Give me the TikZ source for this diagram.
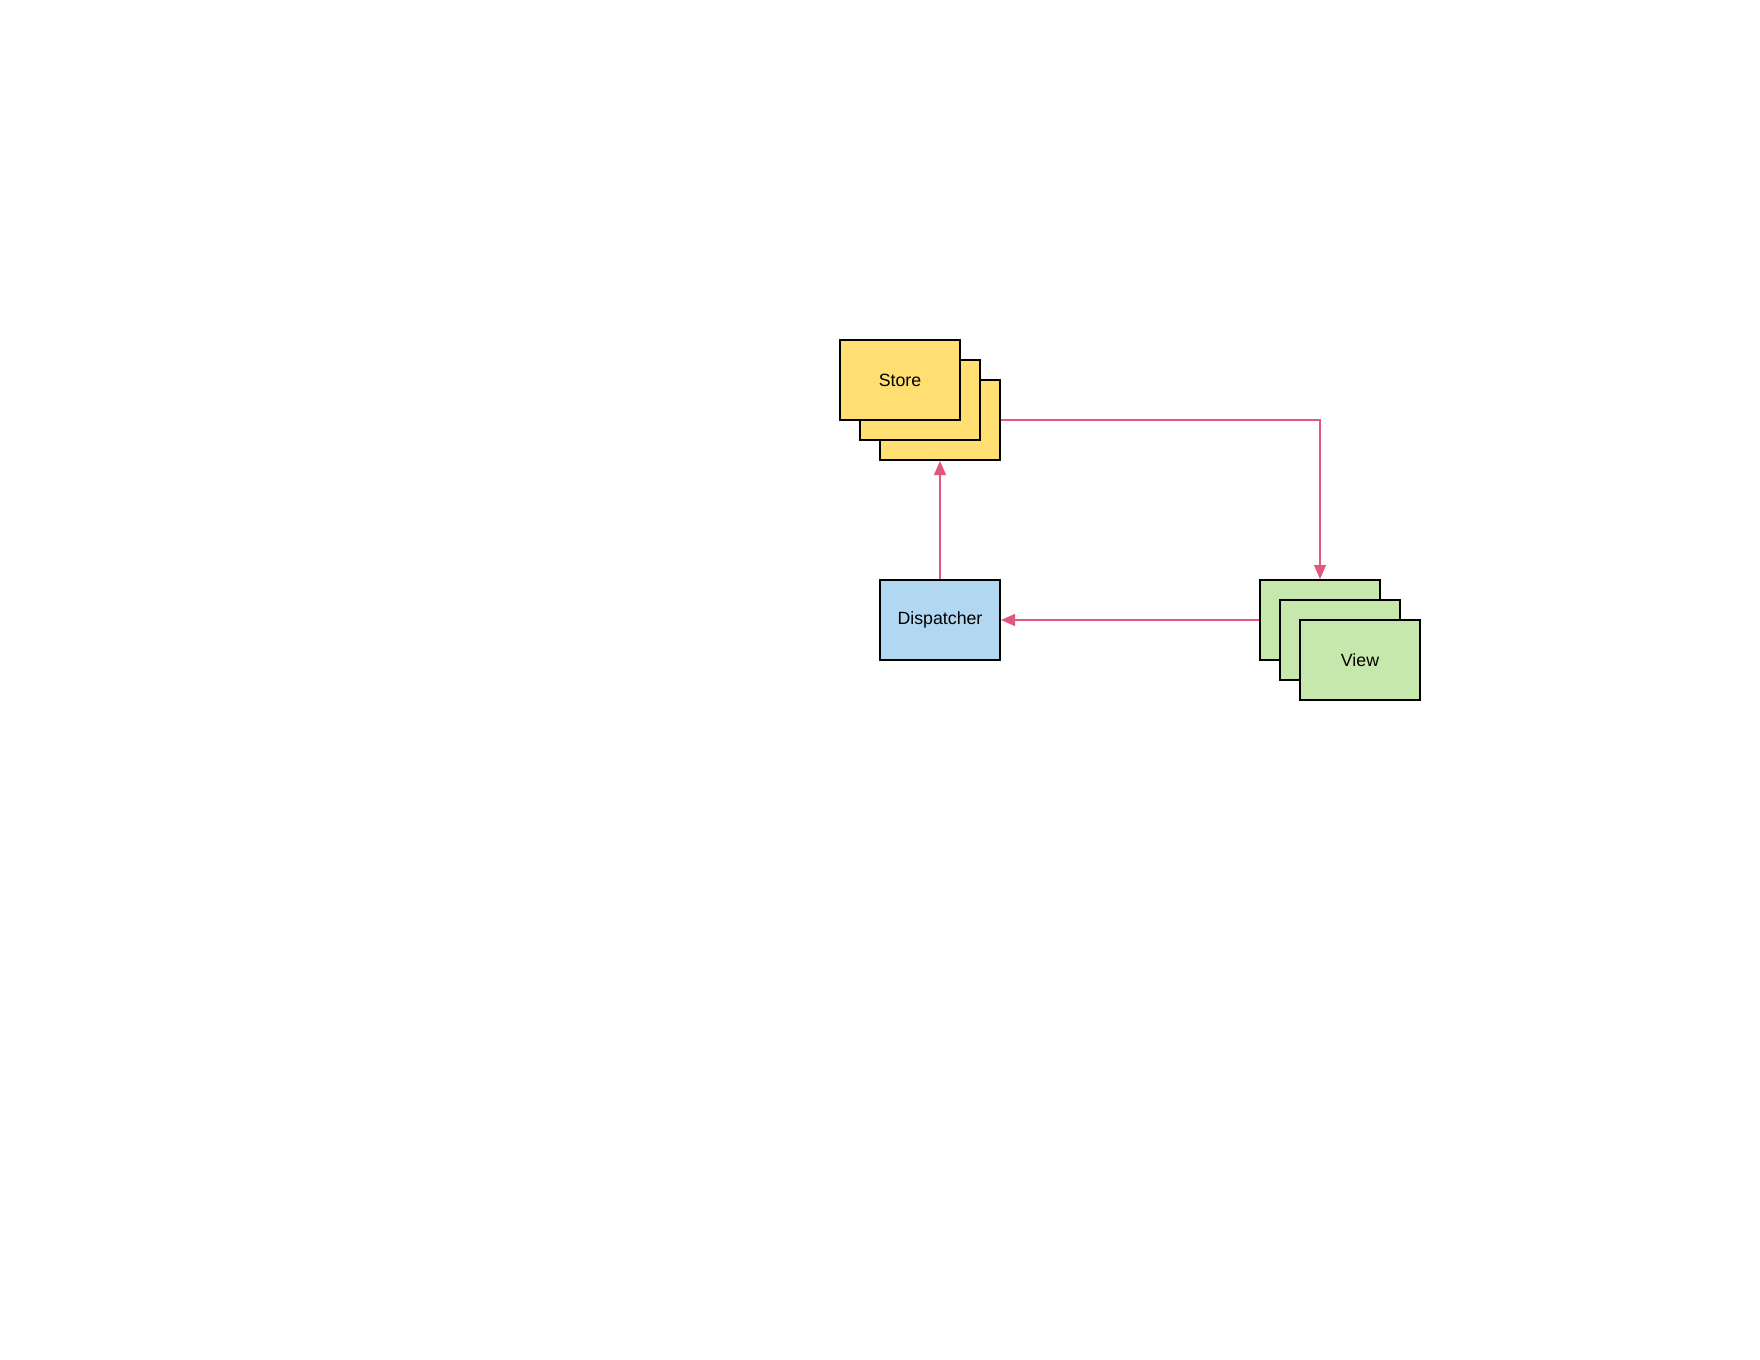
\documentclass[tikz,border=0pt]{standalone}
\usepackage{fontspec}
\setmainfont{Liberation Sans}
\usetikzlibrary{arrows.meta}
\definecolor{storecol}{RGB}{255,223,113}
\definecolor{viewcol}{RGB}{199,232,172}
\definecolor{dispcol}{RGB}{178,215,240}
\definecolor{flowcol}{RGB}{226,86,128}
\tikzset{
	box/.style={draw=black,line width=1.5pt,minimum width=90pt,minimum height=60pt,inner sep=0pt,font=\fontsize{13.3}{16}\selectfont},
	flow/.style={draw=flowcol,line width=0.9pt,-{Triangle[length=10.5pt,width=9pt]}}
}
\begin{document}
\begin{tikzpicture}[x=0.75pt,y=-0.75pt,line join=miter]
	\useasboundingbox (0,0) rectangle (1760,1360);
	% stores
	\foreach \i in {3,2}
	\node[box,fill=storecol] (store\i) at ({880+20*\i},{360+20*\i}) {};
	\node[box,fill=storecol] (store1) at (900,380) {Store};
	% views
	\foreach \i in {1,2}
	\node[box,fill=viewcol] (view\i) at ({1300+20*\i},{600+20*\i}) {};
	\node[box,fill=viewcol] (view3) at (1360,660) {View};
	\node[box,fill=dispcol] (disp) at (940,620) {Dispatcher};
	% flow
	\draw[flow] (store3.east) -| (view1.north);
	\draw[flow] (view1.west) -- (disp.east);
	\draw[flow] (disp.north) -- (store3.south);
\end{tikzpicture}
\end{document}
